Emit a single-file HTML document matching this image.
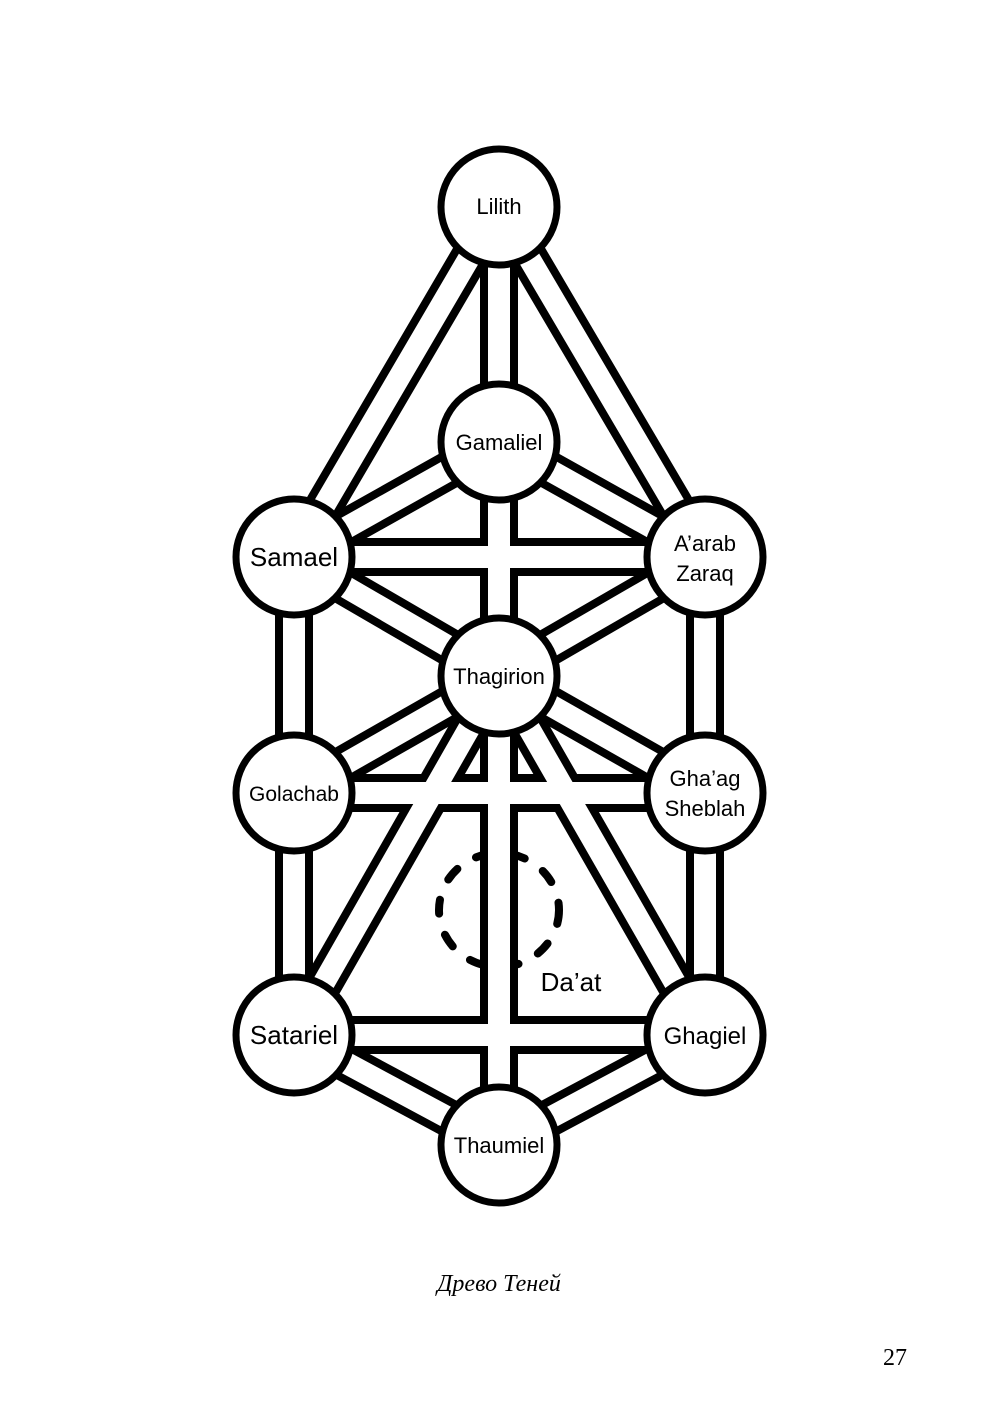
<!DOCTYPE html>
<html><head><meta charset="utf-8"><style>
html,body{margin:0;padding:0;background:#fff;}
svg{display:block;}
text{font-family:"Liberation Sans",sans-serif;fill:#000;text-anchor:middle;}
</style></head><body>
<svg width="1000" height="1424" viewBox="0 0 1000 1424" xmlns="http://www.w3.org/2000/svg">
<rect width="1000" height="1424" fill="#fff"/>
<ellipse cx="499" cy="910" rx="60" ry="57" fill="none" stroke="#000" stroke-width="8" stroke-linecap="round" stroke-dasharray="14 22"/>
<g id="paths" stroke-linecap="butt">
<g stroke="#000" stroke-width="38">
<line x1="499" y1="207" x2="499" y2="442"/>
<line x1="499" y1="207" x2="294" y2="557"/>
<line x1="499" y1="207" x2="705" y2="557"/>
<line x1="499" y1="442" x2="294" y2="557"/>
<line x1="499" y1="442" x2="705" y2="557"/>
<line x1="499" y1="442" x2="499" y2="1145"/>
<line x1="294" y1="557" x2="705" y2="557"/>
<line x1="294" y1="557" x2="499" y2="676"/>
<line x1="705" y1="557" x2="499" y2="676"/>
<line x1="294" y1="557" x2="294" y2="1035"/>
<line x1="705" y1="557" x2="705" y2="1035"/>
<line x1="294" y1="793" x2="499" y2="676"/>
<line x1="705" y1="793" x2="499" y2="676"/>
<line x1="294" y1="793" x2="705" y2="793"/>
<line x1="499" y1="676" x2="294" y2="1035"/>
<line x1="499" y1="676" x2="705" y2="1035"/>
<line x1="294" y1="1035" x2="705" y2="1035"/>
<line x1="294" y1="1035" x2="499" y2="1145"/>
<line x1="705" y1="1035" x2="499" y2="1145"/>
</g>
<g stroke="#fff" stroke-width="22">
<line x1="499" y1="207" x2="499" y2="442"/>
<line x1="499" y1="207" x2="294" y2="557"/>
<line x1="499" y1="207" x2="705" y2="557"/>
<line x1="499" y1="442" x2="294" y2="557"/>
<line x1="499" y1="442" x2="705" y2="557"/>
<line x1="499" y1="442" x2="499" y2="1145"/>
<line x1="294" y1="557" x2="705" y2="557"/>
<line x1="294" y1="557" x2="499" y2="676"/>
<line x1="705" y1="557" x2="499" y2="676"/>
<line x1="294" y1="557" x2="294" y2="1035"/>
<line x1="705" y1="557" x2="705" y2="1035"/>
<line x1="294" y1="793" x2="499" y2="676"/>
<line x1="705" y1="793" x2="499" y2="676"/>
<line x1="294" y1="793" x2="705" y2="793"/>
<line x1="499" y1="676" x2="294" y2="1035"/>
<line x1="499" y1="676" x2="705" y2="1035"/>
<line x1="294" y1="1035" x2="705" y2="1035"/>
<line x1="294" y1="1035" x2="499" y2="1145"/>
<line x1="705" y1="1035" x2="499" y2="1145"/>
</g>
</g>
<g fill="#fff" stroke="#000" stroke-width="7">
<circle cx="499" cy="207" r="58"/>
<circle cx="499" cy="442" r="58"/>
<circle cx="294" cy="557" r="58"/>
<circle cx="705" cy="557" r="58"/>
<circle cx="499" cy="676" r="58"/>
<circle cx="294" cy="793" r="58"/>
<circle cx="705" cy="793" r="58"/>
<circle cx="294" cy="1035" r="58"/>
<circle cx="705" cy="1035" r="58"/>
<circle cx="499" cy="1145" r="58"/>
</g>
<text x="499" y="214" font-size="22">Lilith</text>
<text x="499" y="450" font-size="22">Gamaliel</text>
<text x="294" y="566" font-size="26">Samael</text>
<text x="705" y="551" font-size="22">A’arab</text>
<text x="705" y="581" font-size="22">Zaraq</text>
<text x="499" y="684" font-size="22">Thagirion</text>
<text x="294" y="801" font-size="21">Golachab</text>
<text x="705" y="786" font-size="22">Gha’ag</text>
<text x="705" y="816" font-size="22">Sheblah</text>
<text x="294" y="1044" font-size="26">Satariel</text>
<text x="705" y="1044" font-size="24">Ghagiel</text>
<text x="499" y="1153" font-size="22">Thaumiel</text>
<text x="571" y="991" font-size="26">Da’at</text>
<text x="499" y="1291" font-size="24" font-style="italic" style="font-family:'Liberation Serif',serif">Древо Теней</text>
<text x="895" y="1365" font-size="24" style="font-family:'Liberation Serif',serif">27</text>
</svg>
</body></html>
